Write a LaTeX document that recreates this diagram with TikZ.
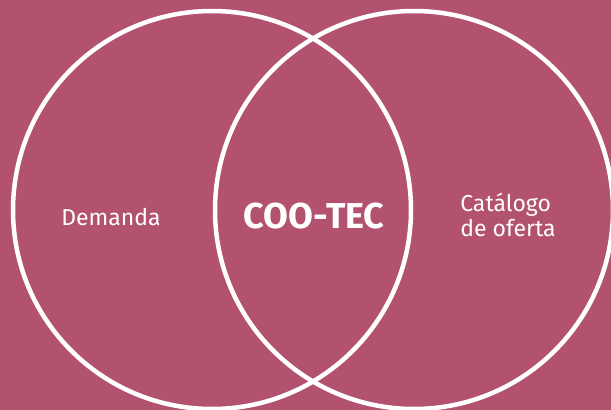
\documentclass[tikz,border=0pt]{standalone}
\usepackage{fontspec}
\setmainfont{Fira Sans}
\begin{document}
\begin{tikzpicture}[x=1pt, y=-1pt]
\definecolor{bg}{HTML}{B3526F}
\useasboundingbox (0,0) rectangle (611,410);
\fill[bg] (0,0) rectangle (611,410);
\tikzset{ring/.style={draw=white, line width=4.5pt}, label text/.style={text=white, inner sep=0pt}}
\draw[ring] (212,210) circle[radius=199];
\draw[ring] (414,210) circle[radius=199];
\node[label text, font=\fontsize{23}{27}\selectfont] (demanda) at (111,217) {Demanda};
\node[label text, font=\bfseries\fontsize{36}{42}\selectfont] (cootec) at (314,216) {COO-TEC};
\node[label text, align=left, font=\fontsize{23}{25}\selectfont] (catalogo) at (508,215) {Catálogo\\de oferta};
\end{tikzpicture}
\end{document}
